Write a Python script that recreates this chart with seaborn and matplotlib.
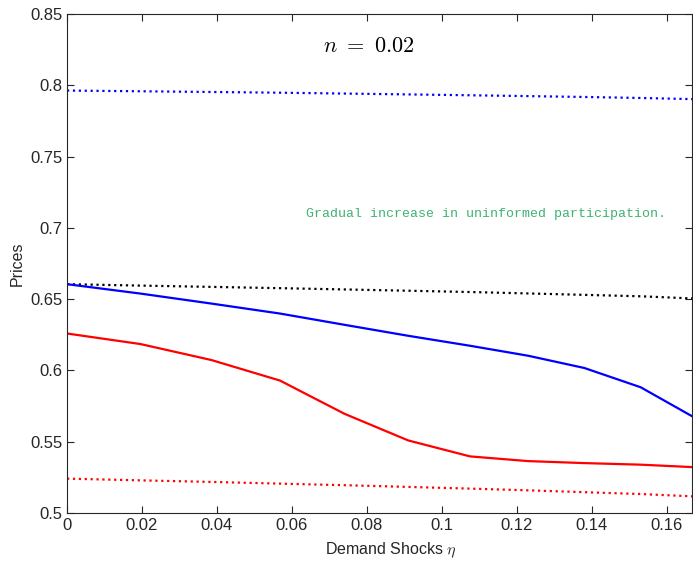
import numpy as np
import pandas as pd
import matplotlib
matplotlib.use("Agg")
import matplotlib.pyplot as plt
import seaborn as sns

# Data
eta = [0.0, 0.0196, 0.0385, 0.0568, 0.074, 0.091, 0.1075, 0.123, 0.138, 0.153, 0.1667]
blue_solid = [0.6605, 0.6539, 0.6469, 0.6399, 0.6320, 0.6243, 0.6173, 0.6103, 0.6017, 0.5882, 0.5679]
red_solid = [0.6259, 0.6185, 0.6073, 0.5929, 0.5696, 0.5509, 0.5397, 0.5364, 0.5350, 0.5339, 0.5322]
blue_dotted = [0.7963, 0.7958, 0.7953, 0.7948, 0.7942, 0.7936, 0.7930, 0.7924, 0.7918, 0.7911, 0.7903]
black_dotted = [0.6605, 0.6595, 0.6586, 0.6577, 0.6568, 0.6559, 0.6550, 0.6540, 0.6530, 0.6520, 0.6505]
red_dotted = [0.5241, 0.5229, 0.5218, 0.5206, 0.5195, 0.5183, 0.5171, 0.5159, 0.5146, 0.5133, 0.5117]

xticks = [0, 0.02, 0.04, 0.06, 0.08, 0.1, 0.12, 0.14, 0.16]
xticklabels = ["0", "0.02", "0.04", "0.06", "0.08", "0.1", "0.12", "0.14", "0.16"]
yticks = [0.5, 0.55, 0.6, 0.65, 0.7, 0.75, 0.8, 0.85]
yticklabels = ["0.5", "0.55", "0.6", "0.65", "0.7", "0.75", "0.8", "0.85"]

series = {
    "blue_dotted": (blue_dotted, "#0000ff", ":"),
    "black_dotted": (black_dotted, "#000000", ":"),
    "blue_solid": (blue_solid, "#0000ff", "-"),
    "red_solid": (red_solid, "#ff0000", "-"),
    "red_dotted": (red_dotted, "#ff0000", ":"),
}

sns.set_theme(style="white")
plt.rcParams["font.family"] = ["Liberation Sans", "DejaVu Sans"]
plt.rcParams["mathtext.fontset"] = "cm"

fig = plt.figure(figsize=(6.93, 5.62), dpi=100)
ax = fig.add_axes([67 / 693, 1 - 513 / 562, 625 / 693, 499 / 562])

for name, (vals, color, ls) in series.items():
    df = pd.DataFrame({"eta": eta, "price": vals})
    sns.lineplot(data=df, x="eta", y="price", ax=ax, color=color, linestyle=ls,
                 linewidth=1.6, legend=False)

ax.set_xlim(0, 0.1667)
ax.set_ylim(0.5, 0.85)
ax.set_xticks(xticks)
ax.set_xticklabels(xticklabels)
ax.set_yticks(yticks)
ax.set_yticklabels(yticklabels)
ax.tick_params(direction="in", length=5, width=0.8, colors="#262626", labelsize=12,
               top=True, right=True, bottom=True, left=True, pad=3.5)
for s in ax.spines.values():
    s.set_visible(True)
    s.set_color("#262626")
    s.set_linewidth(0.8)

ax.set_xlabel(r"Demand Shocks $\eta$", fontsize=11.5, color="#262626", labelpad=3)
ax.xaxis.set_label_coords(0.518, -0.055)
ax.set_ylabel("Prices", fontsize=11.5, color="#262626", labelpad=4)

ax.text(0.483, 0.934, r"$n\ =\ 0.02$", transform=ax.transAxes, fontsize=16, color="black",
        ha="center", va="center")
ax.text(0.670, 0.599, "Gradual increase in uninformed participation.", transform=ax.transAxes,
        fontsize=9.5, color="#3cb371", family=["Liberation Mono", "DejaVu Sans Mono"],
        ha="center", va="center")

fig.savefig("out.png", dpi=100)
